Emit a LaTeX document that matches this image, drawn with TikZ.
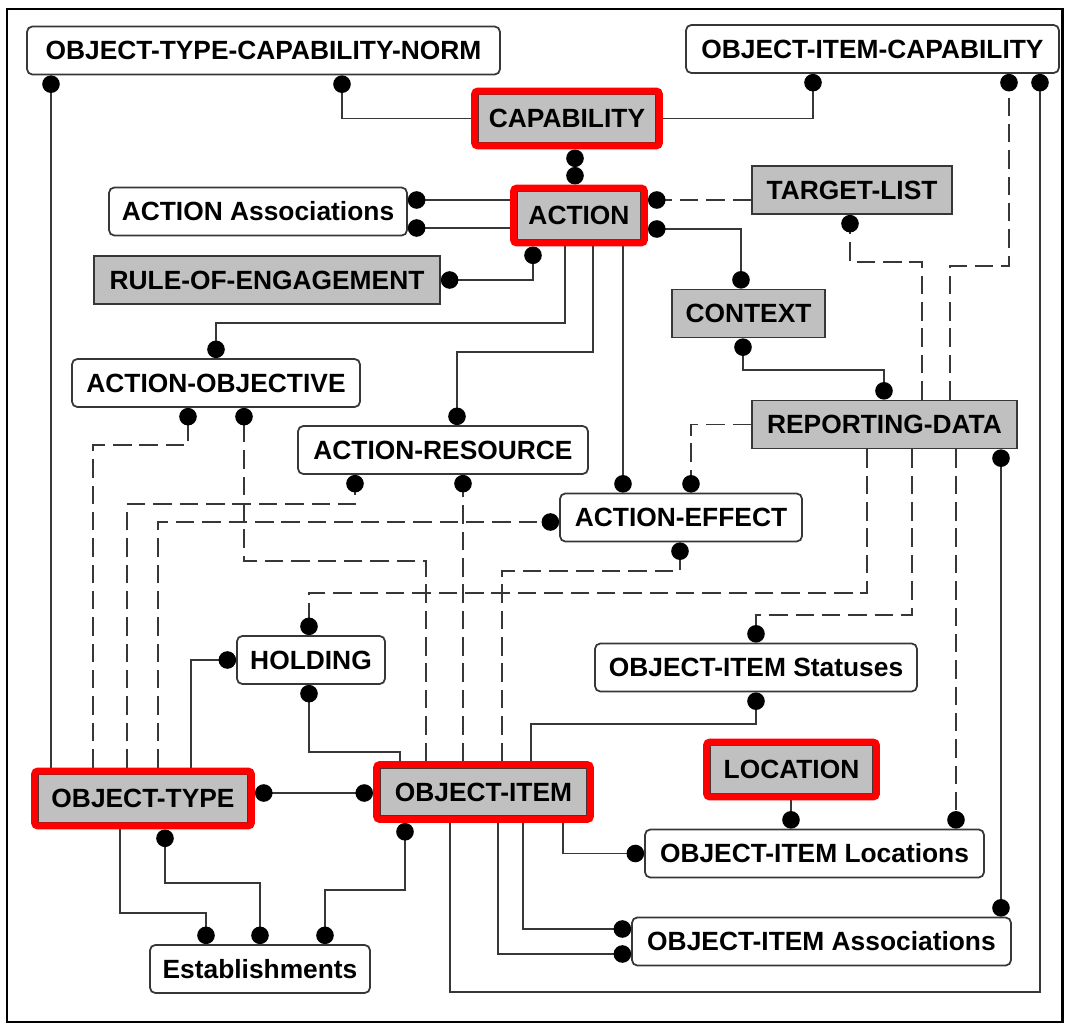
\documentclass[tikz,border=0pt]{standalone}
\usepackage{fontspec}
\setmainfont{Liberation Sans}
\usetikzlibrary{arrows.meta}
\definecolor{boxfill}{RGB}{192,192,192}
\definecolor{linegrey}{RGB}{55,55,55}
\definecolor{markred}{RGB}{255,0,0}

\begin{document}
\begin{tikzpicture}[x=0.02cm, y=-0.02cm,
    blob/.tip={Circle[length=10pt, color=black]},
    entity/.style={draw=linegrey, line width=1pt, rounded corners=3pt, fill=white,
      minimum height=0.96cm, inner sep=0pt, font=\fontsize{15}{18}\selectfont\bfseries},
    core/.style={entity, rounded corners=0pt, fill=boxfill},
    focus/.style={core, outer sep=0.14cm},
    link/.style={draw=linegrey, line width=1pt},
    rel/.style={link, dash pattern=on 10.5pt off 4.5pt},
    redframe/.style={draw=markred, line width=0.14cm, rounded corners=2pt}]
    \useasboundingbox (0,0) rectangle (1066,1024);
    \draw[line width=1.7pt] (7,9) rectangle (1062,1022);

    \node[entity, minimum width=9.46cm] (otcn) at (263.5,50.5) {OBJECT-TYPE-CAPABILITY-NORM};
    \node[entity, minimum width=7.46cm] (oicap) at (872.5,49) {OBJECT-ITEM-CAPABILITY};
    \node[focus, minimum width=3.56cm] (capab) at (567,118.5) {CAPABILITY};
    \node[focus, minimum width=2.48cm] (action) at (579,215.5) {ACTION};
    \node[core, minimum width=4.00cm] (tlist) at (852,190) {TARGET-LIST};
    \node[entity, minimum width=5.96cm] (actassoc) at (258,211.5) {ACTION Associations};
    \node[core, minimum width=6.92cm] (roe) at (267,280) {RULE-OF-ENGAGEMENT};
    \node[core, minimum width=3.06cm] (context) at (748.5,313.5) {CONTEXT};
    \node[entity, minimum width=5.76cm] (actobj) at (216,383) {ACTION-OBJECTIVE};
    \node[entity, minimum width=5.80cm] (actres) at (443,450) {ACTION-RESOURCE};
    \node[core, minimum width=5.30cm] (repdata) at (884.5,424.5) {REPORTING-DATA};
    \node[entity, minimum width=4.84cm] (acteff) at (681,517.5) {ACTION-EFFECT};
    \node[entity, minimum width=2.96cm] (holding) at (311,660) {HOLDING};
    \node[entity, minimum width=6.44cm] (oistat) at (756,667.5) {OBJECT-ITEM Statuses};
    \node[focus, minimum width=3.26cm] (location) at (791.5,769.5) {LOCATION};
    \node[focus, minimum width=4.20cm] (otype) at (143,798.5) {OBJECT-TYPE};
    \node[focus, minimum width=4.14cm] (oitem) at (483.5,792) {OBJECT-ITEM};
    \node[entity, minimum width=6.78cm] (oiloc) at (814.5,853.5) {OBJECT-ITEM Locations};
    \node[entity, minimum width=7.58cm] (oiassoc) at (821.5,941.5) {OBJECT-ITEM Associations};
    \node[entity, minimum width=4.40cm] (estab) at (260,969) {Establishments};

    \draw[link, -blob] (otype.north -| 51,0) -- (otcn.south -| 51,0);
    \draw[link, -blob] (capab.west) -| (otcn.south -| 342,0);
    \draw[link, -blob] (capab.east) -| (oicap.south -| 813,0);
    \draw[link, blob-blob] (capab.south -| 575,0) -- (action.north -| 575,0);
    \draw[link, -blob] (action.west |- 0,200) -- (actassoc.east |- 0,200);
    \draw[link, -blob] (action.west |- 0,228) -- (actassoc.east |- 0,228);
    \draw[link, blob-blob] (roe.east) -| (action.south -| 533,0);
    \draw[link, -blob] (action.south -| 565,0) |- (216,323) -- (actobj.north -| 216,0);
    \draw[link, -blob] (action.south -| 593,0) |- (457,352) -- (actres.north -| 457,0);
    \draw[link, -blob] (action.south -| 623,0) -- (acteff.north -| 623,0);
    \draw[link, blob-blob] (action.east |- 0,229) -| (context.north -| 741,0);
    \draw[link, blob-blob] (context.south -| 743,0) |- (884,370) -- (repdata.north -| 884,0);
    \draw[link, -blob] (oitem.south -| 450,0) |- (1040,992) -- (oicap.south -| 1040,0);
    \draw[link, blob-blob] (repdata.south -| 1001,0) -- (oiassoc.north -| 1001,0);
    \draw[link, -blob] (location.south -| 791,0) -- (oiloc.north -| 791,0);
    \draw[link, -blob] (oitem.north -| 531,0) |- (756,724) -- (oistat.south -| 756,0);
    \draw[link, -blob] (oitem.south -| 563,0) |- (oiloc.west);
    \draw[link, -blob] (oitem.south -| 523,0) |- (oiassoc.west |- 0,929);
    \draw[link, -blob] (oitem.south -| 498,0) |- (oiassoc.west |- 0,954);
    \draw[link, blob-blob] (otype.east |- 0,793) -- (oitem.west |- 0,793);
    \draw[link, blob-blob] (otype.south -| 165,0) |- (260,883) -- (estab.north -| 260,0);
    \draw[link, -blob] (otype.south -| 120,0) |- (206,913) -- (estab.north -| 206,0);
    \draw[link, blob-blob] (oitem.south -| 405,0) |- (325,890) -- (estab.north -| 325,0);
    \draw[link, -blob] (oitem.north -| 400,0) |- (309,752) -- (holding.south -| 309,0);
    \draw[link, -blob] (otype.north -| 191,0) |- (holding.west);

    \draw[rel, -blob] (tlist.west |- 0,200) -- (action.east |- 0,200);
    \draw[rel, -blob] (repdata.north -| 922,0) |- (850,262) -- (tlist.south -| 850,0);
    \draw[rel, -blob] (repdata.north -| 950,0) |- (1009,266) -- (oicap.south -| 1009,0);
    \draw[rel, -blob] (repdata.west) -| (acteff.north -| 691,0);
    \draw[rel, -blob] (repdata.south -| 867,0) |- (309,593) -- (holding.north -| 309,0);
    \draw[rel, -blob] (repdata.south -| 912,0) |- (756,615) -- (oistat.north -| 756,0);
    \draw[rel, -blob] (repdata.south -| 956,0) -- (oiloc.north -| 956,0);
    \draw[rel, -blob] (otype.north -| 93,0) |- (188,445) -- (actobj.south -| 188,0);
    \draw[rel, -blob] (oitem.north -| 426,0) |- (244,561) -- (actobj.south -| 244,0);
    \draw[rel, -blob] (otype.north -| 127,0) |- (355,504) -- (actres.south -| 355,0);
    \draw[rel, -blob] (oitem.north -| 463,0) -- (actres.south -| 463,0);
    \draw[rel, -blob] (otype.north -| 158,0) |- (acteff.west |- 0,522);
    \draw[rel, -blob] (oitem.north -| 502,0) |- (680,571) -- (acteff.south -| 680,0);

    \draw[redframe] ([shift={(3.5,3.5)}]capab.north west) rectangle ([shift={(-3.5,-3.5)}]capab.south east);
    \draw[redframe] ([shift={(3.5,3.5)}]action.north west) rectangle ([shift={(-3.5,-3.5)}]action.south east);
    \draw[redframe] ([shift={(3.5,3.5)}]location.north west) rectangle ([shift={(-3.5,-3.5)}]location.south east);
    \draw[redframe] ([shift={(3.5,3.5)}]otype.north west) rectangle ([shift={(-3.5,-3.5)}]otype.south east);
    \draw[redframe] ([shift={(3.5,3.5)}]oitem.north west) rectangle ([shift={(-3.5,-3.5)}]oitem.south east);
\end{tikzpicture}
\end{document}
